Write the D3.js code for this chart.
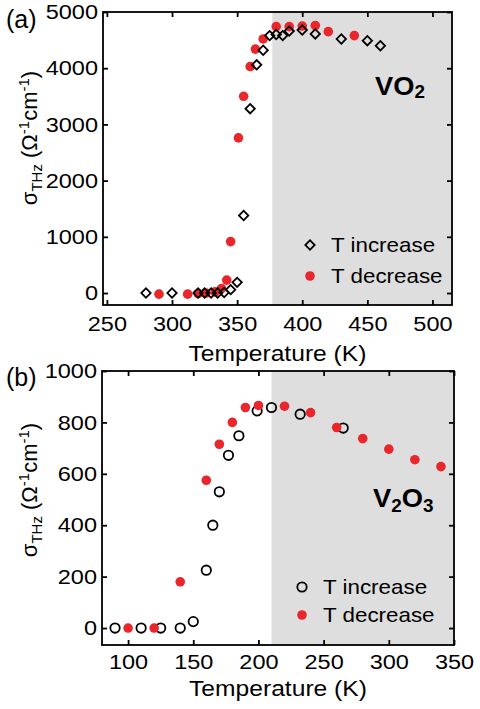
<!DOCTYPE html>
<html><head><meta charset="utf-8">
<script src="https://cdn.jsdelivr.net/npm/d3@7"></script>
<style>
body{margin:0;background:#fff;}
text{font-family:"Liberation Sans", Arial, Helvetica, sans-serif;fill:#000;}
</style>
</head><body>
<svg id="c" width="480" height="709"></svg>
<script>
// ---------- DATA ----------
// (a) VO2
const vo2IncT = [280, 300, 320, 325, 330, 335, 340, 345, 350, 355, 360, 365, 370, 375, 380, 385, 390, 400, 410, 430, 450, 460];
const vo2IncV = [0, 0, 0, 0, 0, 0, 10, 60, 190, 1380, 3280, 4060, 4320, 4580, 4600, 4580, 4660, 4680, 4610, 4520, 4490, 4400];
const vo2DecT = [290, 312, 320, 326, 333, 338, 342, 345, 351, 355, 360, 364, 370, 380, 390, 400, 410, 420, 440];
const vo2DecV = [-20, -20, -10, 0, 20, 80, 230, 915, 2760, 3500, 4030, 4340, 4520, 4740, 4740, 4750, 4760, 4650, 4580];
const vo2XTicks = [250, 300, 350, 400, 450, 500];
const vo2YTicks = [0, 1000, 2000, 3000, 4000, 5000];
const vo2Shade = 377;
// (b) V2O3
const v2o3IncT = [90, 110, 125, 140, 150, 160, 165, 170, 177, 185, 199, 210, 232, 265];
const v2o3IncV = [0, 0, 0, 0, 25, 225, 400, 530, 672, 748, 845, 858, 832, 778];
const v2o3DecT = [100, 120, 140, 160, 170, 180, 190, 200, 220, 240, 260, 280, 300, 320, 340];
const v2o3DecV = [0, 0, 180, 575, 715, 800, 858, 866, 863, 838, 780, 737, 696, 655, 628];
const v2o3XTicks = [100, 150, 200, 250, 300, 350];
const v2o3YTicks = [0, 200, 400, 600, 800, 1000];
const v2o3Shade = 210;
const legendLabels = ["T increase", "T decrease"];

// ---------- STYLE ----------
const RED = "#e8262b";
const GRAY = "#dedede";
const SX = 1.12;
const svg = d3.select("#c");
const fmt = d3.format("d");

function panel(cfg) {
  const x = d3.scaleLinear().domain(cfg.xDom).range([cfg.L, cfg.R]);
  const y = d3.scaleLinear().domain(cfg.yDom).range([cfg.B, cfg.T]);
  const g = svg.append("g");
  // shaded region
  g.append("rect").attr("x", x(cfg.shade)).attr("y", cfg.T)
    .attr("width", cfg.R - x(cfg.shade)).attr("height", cfg.B - cfg.T).attr("fill", GRAY);

  // axes (ticks inward on all sides)
  const tk = 5;
  const ax = [
    {a: d3.axisBottom(x).tickValues(cfg.xTicks).tickFormat(fmt).tickSize(-tk).tickSizeOuter(0).tickPadding(cfg.xPad), t: `translate(0,${cfg.B})`, lab: true},
    {a: d3.axisTop(x).tickValues(cfg.xTicks).tickSize(-tk).tickSizeOuter(0).tickFormat(""), t: `translate(0,${cfg.T})`},
    {a: d3.axisLeft(y).tickValues(cfg.yTicks).tickFormat(fmt).tickSize(-tk).tickSizeOuter(0).tickPadding(6), t: `translate(${cfg.L},0)`, lab: true, left: true},
    {a: d3.axisRight(y).tickValues(cfg.yTicks).tickSize(-tk).tickSizeOuter(0).tickFormat(""), t: `translate(${cfg.R},0)`}
  ];
  ax.forEach(o => {
    const ag = g.append("g").attr("transform", o.t).call(o.a);
    ag.select(".domain").remove();
    ag.selectAll("line").attr("stroke", "#000").attr("stroke-width", 1.8);
    ag.selectAll("text").attr("font-size", 21).attr("font-family", "Liberation Sans, Arial, sans-serif").attr("fill", "#000");
    if (o.lab) {
      ag.selectAll("text").each(function() {
        const t = d3.select(this);
        if (o.left) t.attr("x", -5 / SX);
        t.attr("transform", `scale(${SX},1)`);
      });
    }
  });

  const incData = cfg.incT.map((t, i) => ({t, v: cfg.incV[i]}));
  const decData = cfg.decT.map((t, i) => ({t, v: cfg.decV[i]}));

  const drawInc = (sel, data) => {
    if (cfg.diamond) {
      sel.selectAll(null).data(data).enter().append("path")
        .attr("d", d3.symbol().type(d3.symbolSquare).size(44)())
        .attr("transform", d => `translate(${x(d.t)},${y(d.v)}) rotate(45)`)
        .attr("fill", "none").attr("stroke", "#000").attr("stroke-width", 1.8);
    } else {
      sel.selectAll(null).data(data).enter().append("circle")
        .attr("cx", d => x(d.t)).attr("cy", d => y(d.v)).attr("r", 4.7)
        .attr("fill", "none").attr("stroke", "#000").attr("stroke-width", 1.8);
    }
  };
  const drawDec = (sel, data) => {
    sel.selectAll(null).data(data).enter().append("circle")
      .attr("cx", d => x(d.t)).attr("cy", d => y(d.v)).attr("r", 4.8)
      .attr("fill", RED);
  };
  const mg = g.append("g");
  if (cfg.incOnTop) { drawDec(mg, decData); drawInc(mg, incData); }
  else { drawInc(mg, incData); drawDec(mg, decData); }

  // frame
  g.append("rect").attr("x", cfg.L).attr("y", cfg.T).attr("width", cfg.R - cfg.L)
    .attr("height", cfg.B - cfg.T).attr("fill", "none").attr("stroke", "#000").attr("stroke-width", 1.8);

  // legend
  const lg = g.append("g");
  if (cfg.diamond) {
    lg.append("path").attr("d", d3.symbol().type(d3.symbolSquare).size(44)())
      .attr("transform", `translate(${cfg.legX},${cfg.legY1}) rotate(45)`)
      .attr("fill", "none").attr("stroke", "#000").attr("stroke-width", 1.8);
  } else {
    lg.append("circle").attr("cx", cfg.legX).attr("cy", cfg.legY1).attr("r", 4.7)
      .attr("fill", "none").attr("stroke", "#000").attr("stroke-width", 1.8);
  }
  lg.append("circle").attr("cx", cfg.legX).attr("cy", cfg.legY2).attr("r", 4.8).attr("fill", RED);
  [cfg.legY1, cfg.legY2].forEach((ly, i) => {
    lg.append("text").attr("transform", `translate(${cfg.legX + 21},${ly + 7}) scale(${SX},1)`)
      .attr("font-size", 20).text(legendLabels[i]);
  });

  // material label
  const ml = g.append("text").attr("transform", `translate(${cfg.matX},${cfg.matY}) scale(1.05,1)`)
    .attr("font-size", 26).attr("font-weight", "bold");
  cfg.mat.forEach(p => {
    ml.append("tspan").attr("font-size", p.sub ? 18 : 26).attr("dy", p.dy).text(p.s);
  });

  // x title
  g.append("text").attr("transform", `translate(${(cfg.L + cfg.R) / 2},${cfg.xTitleY}) scale(${SX},1)`)
    .attr("text-anchor", "middle").attr("font-size", 22).text("Temperature (K)");

  // y title
  const yt = g.append("text").attr("transform", `translate(37,${cfg.yTitleY}) rotate(-90)`)
    .attr("text-anchor", "middle").attr("font-size", 22);
  yt.append("tspan").text("σ");
  yt.append("tspan").attr("font-size", 15).attr("dy", 5).text("THz");
  yt.append("tspan").attr("dy", -5).text(" (Ω");
  yt.append("tspan").attr("font-size", 15).attr("dy", -8).text("-1");
  yt.append("tspan").attr("dy", 8).text("cm");
  yt.append("tspan").attr("font-size", 15).attr("dy", -8).text("-1");
  yt.append("tspan").attr("dy", 8).text(")");

  // panel letter
  g.append("text").attr("x", 6).attr("y", cfg.letY).attr("font-size", 25).text(cfg.letter);
}

panel({
  L: 103, R: 452, T: 12, B: 305,
  xDom: [247, 515], yDom: [-213, 5000],
  xTicks: vo2XTicks, yTicks: vo2YTicks, shade: vo2Shade, xPad: 11,
  incT: vo2IncT, incV: vo2IncV, decT: vo2DecT, decV: vo2DecV,
  diamond: true, incOnTop: true,
  legX: 310, legY1: 245, legY2: 276,
  mat: [{s: "VO", dy: 0}, {s: "2", sub: true, dy: 3}], matX: 375, matY: 95,
  xTitleY: 361, yTitleY: 138, letter: "(a)", letY: 28
});
panel({
  L: 102, R: 454, T: 371, B: 645,
  xDom: [80, 350], yDom: [-66, 1000],
  xTicks: v2o3XTicks, yTicks: v2o3YTicks, shade: v2o3Shade, xPad: 9,
  incT: v2o3IncT, incV: v2o3IncV, decT: v2o3DecT, decV: v2o3DecV,
  diamond: false, incOnTop: false,
  legX: 302, legY1: 587, legY2: 615,
  mat: [{s: "V", dy: 0}, {s: "2", sub: true, dy: 5}, {s: "O", dy: -5}, {s: "3", sub: true, dy: 5}], matX: 373, matY: 507,
  xTitleY: 696, yTitleY: 490, letter: "(b)", letY: 386
});
</script>
</body></html>
